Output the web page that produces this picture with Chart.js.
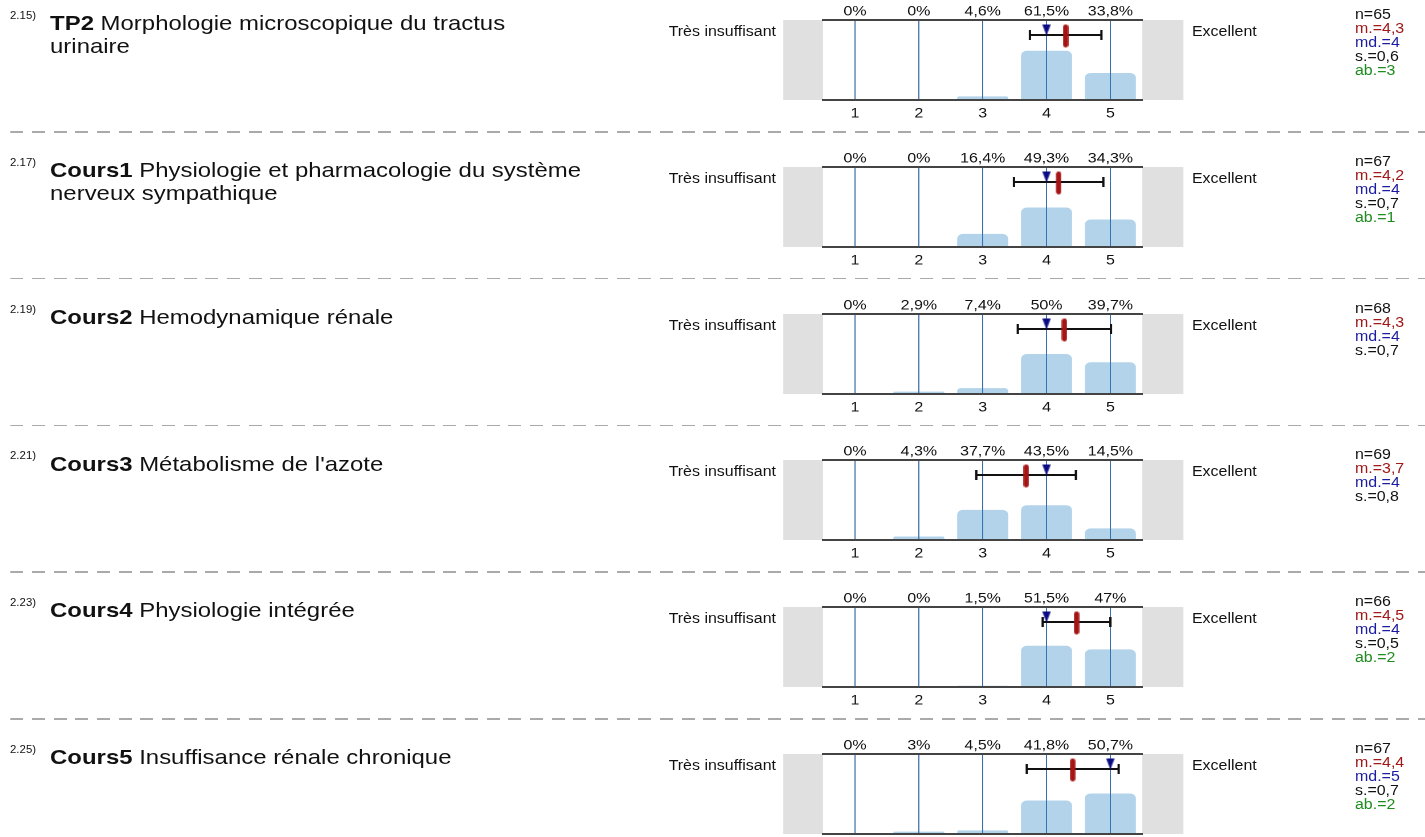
<!DOCTYPE html>
<html>
<head>
<meta charset="utf-8">
<script src="https://cdn.jsdelivr.net/npm/chart.js@4.4.1/dist/chart.umd.min.js"></script>
<style>
    html, body { margin: 0; padding: 0; background: #fff; overflow: hidden; }
    /* the reference is stretched horizontally, so the whole page is laid out narrow and widened */
    #page { position: relative; width: 1250px; height: 837px; transform: scaleX(1.14); transform-origin: 0 0;
            font-family: 'Liberation Sans', Arial, sans-serif; color: #111; }
    .panel { position: absolute; left: 0; width: 1250px; height: 147px; }
    .num { position: absolute; left: 8.8px; top: 11px; font-size: 10px; line-height: 10px; }
    .title { position: absolute; left: 43.9px; top: 11.2px; font-size: 21px; line-height: 23px; white-space: nowrap; }
    .lo { position: absolute; left: 0; width: 680.7px; text-align: right; top: 24px; font-size: 14px; line-height: 14px; }
    .hi { position: absolute; left: 1045.6px; top: 24px; font-size: 14px; line-height: 14px; }
    .stats { position: absolute; left: 1188.6px; top: 7px; font-size: 14px; line-height: 14px; }
    .stats .m { color: #a01818; }
    .stats .md { color: #1c1ca0; }
    .stats .ab { color: #1e8c1e; }
    .panel canvas { position: absolute; left: 686.8px; top: 0; }
    .sep { position: absolute; left: 8.8px; width: 1241.2px; height: 1.5px;
           background: repeating-linear-gradient(to right, #aaa 0 11.4px, transparent 11.4px 19px); }
</style>
</head>
<body>
<div id="page"></div>
<script>
const qNums = ['2.15)', '2.17)', '2.19)', '2.21)', '2.23)', '2.25)'];
const tags = ['TP2', 'Cours1', 'Cours2', 'Cours3', 'Cours4', 'Cours5'];
const titles = [
    'Morphologie microscopique du tractus\nurinaire',
    'Physiologie et pharmacologie du système\nnerveux sympathique',
    'Hemodynamique rénale',
    'Métabolisme de l\'azote',
    'Physiologie intégrée',
    'Insuffisance rénale chronique'
];
const scaleLabels = ['1', '2', '3', '4', '5'];
const lowLabel = 'Très insuffisant';
const highLabel = 'Excellent';

// percentage of answers per grade
const pct = [
    [0, 0, 4.6, 61.5, 33.8],
    [0, 0, 16.4, 49.3, 34.3],
    [0, 2.9, 7.4, 50, 39.7],
    [0, 4.3, 37.7, 43.5, 14.5],
    [0, 0, 1.5, 51.5, 47],
    [0, 3, 4.5, 41.8, 50.7]
];
const nResp = [65, 67, 68, 69, 66, 67];
const means = [4.30, 4.19, 4.28, 3.68, 4.47, 4.41];
const medians = [4, 4, 4, 4, 4, 5];
const sds = [0.56, 0.70, 0.73, 0.78, 0.53, 0.72];
const abst = [3, 1, null, null, 2, 2];

const FONT = "'Liberation Sans', Arial, sans-serif";
const PERIOD = 146.8;
// marker heights on the 0-100 value axis
const ERR_Y = 81.25, MEAN_Y = 80, MED_Y = 87.5;

function fmt(v, digits) {
    return (digits === undefined ? String(v) : v.toFixed(digits)).replace('.', ',');
}

// small images used as point styles
function meanMark() {
    const c = document.createElement('canvas');
    c.width = 5; c.height = 23;
    const g = c.getContext('2d');
    g.strokeStyle = '#a51313';
    g.lineWidth = 4.6;
    g.lineCap = 'round';
    g.beginPath(); g.moveTo(2.5, 2.4); g.lineTo(2.5, 20.6); g.stroke();
    return c;
}
function medianMark() {
    const c = document.createElement('canvas');
    c.width = 8; c.height = 11;
    const g = c.getContext('2d');
    g.fillStyle = '#0a0a82';
    g.beginPath(); g.moveTo(0.3, 0); g.lineTo(7.7, 0); g.lineTo(4, 11); g.closePath(); g.fill();
    return c;
}
const meanImg = meanMark();
const medImg = medianMark();

const grayBoxes = {
    id: 'grayBoxes',
    beforeDraw(chart) {
        const { ctx, chartArea: a, width } = chart;
        ctx.save();
        ctx.fillStyle = '#e0e0e0';
        ctx.fillRect(0, a.top, a.left, a.bottom - a.top);
        ctx.fillRect(a.right, a.top, width - a.right, a.bottom - a.top);
        ctx.restore();
    }
};

const page = document.getElementById('page');

function el(tag, cls, text) {
    const e = document.createElement(tag);
    if (cls) e.className = cls;
    if (text !== undefined) e.textContent = text;
    return e;
}

qNums.forEach((q, i) => {
    const panel = el('div', 'panel');
    panel.style.top = (i * PERIOD) + 'px';

    panel.appendChild(el('div', 'num', q));

    const title = el('div', 'title');
    title.appendChild(el('b', null, tags[i]));
    titles[i].split('\n').forEach((line, k) => {
        if (k > 0) title.appendChild(document.createElement('br'));
        title.appendChild(document.createTextNode((k === 0 ? ' ' : '') + line));
    });
    panel.appendChild(title);

    panel.appendChild(el('div', 'lo', lowLabel));
    panel.appendChild(el('div', 'hi', highLabel));

    const stats = el('div', 'stats');
    stats.appendChild(el('div', null, 'n=' + nResp[i]));
    stats.appendChild(el('div', 'm', 'm.=' + fmt(means[i], 1)));
    stats.appendChild(el('div', 'md', 'md.=' + medians[i]));
    stats.appendChild(el('div', null, 's.=' + fmt(sds[i], 1)));
    if (abst[i] !== null) stats.appendChild(el('div', 'ab', 'ab.=' + abst[i]));
    panel.appendChild(stats);

    const canvas = document.createElement('canvas');
    canvas.width = 351;
    canvas.height = 125;
    panel.appendChild(canvas);
    page.appendChild(panel);

    if (i < qNums.length - 1) {
        const sep = el('div', 'sep');
        sep.style.top = (131 + i * PERIOD) + 'px';
        page.appendChild(sep);
    }

    const tickFont = { family: FONT, size: 14 };

    new Chart(canvas.getContext('2d'), {
        type: 'bar',
        data: {
            labels: scaleLabels,
            datasets: [
                {
                    data: pct[i],
                    // translucent so the grid line shows through like in the original
                    backgroundColor: 'rgba(38, 129, 195, 0.35)',
                    borderRadius: 5,
                    grouped: false,
                    barPercentage: 0.8,
                    categoryPercentage: 1,
                    order: 4
                },
                {
                    type: 'line',
                    data: [{ x: means[i] - sds[i], y: ERR_Y }, { x: means[i] + sds[i], y: ERR_Y }],
                    xAxisID: 'xv',
                    borderColor: '#111',
                    borderWidth: 2,
                    pointStyle: 'line',
                    pointRotation: 90,
                    pointRadius: 5,
                    pointBorderWidth: 2,
                    pointBorderColor: '#111',
                    order: 3
                },
                {
                    type: 'scatter',
                    data: [{ x: medians[i], y: MED_Y }],
                    xAxisID: 'xv',
                    pointStyle: medImg,
                    order: 2
                },
                {
                    type: 'scatter',
                    data: [{ x: means[i], y: MEAN_Y }],
                    xAxisID: 'xv',
                    pointStyle: meanImg,
                    order: 1
                }
            ]
        },
        options: {
            responsive: false,
            devicePixelRatio: 2,
            animation: false,
            events: [],
            layout: { padding: { left: 35, right: 36, top: 0, bottom: 0 } },
            plugins: { legend: { display: false }, tooltip: { enabled: false } },
            scales: {
                x: {
                    type: 'category',
                    position: 'bottom',
                    offset: true,
                    grid: { offset: false, color: '#3b6ea8', lineWidth: 1, drawTicks: false },
                    border: { display: true, color: '#444', width: 2, z: 1 },
                    ticks: { color: '#111', font: tickFont, padding: 5, autoSkip: false, maxRotation: 0 },
                    afterFit: (s) => { s.height = 25; }
                },
                xt: {
                    type: 'category',
                    position: 'top',
                    labels: pct[i].map(v => fmt(v) + '%'),
                    offset: true,
                    grid: { display: false, drawTicks: false },
                    border: { display: true, color: '#444', width: 2 },
                    ticks: { color: '#111', font: tickFont, padding: 0, autoSkip: false, maxRotation: 0 },
                    afterFit: (s) => { s.height = 20; }
                },
                xv: { type: 'linear', display: false, offset: false, grid: { offset: false }, min: 0.5, max: 5.5 },
                y: { display: false, min: 0, max: 100 }
            }
        },
        plugins: [grayBoxes]
    });
});
</script>
</body>
</html>
